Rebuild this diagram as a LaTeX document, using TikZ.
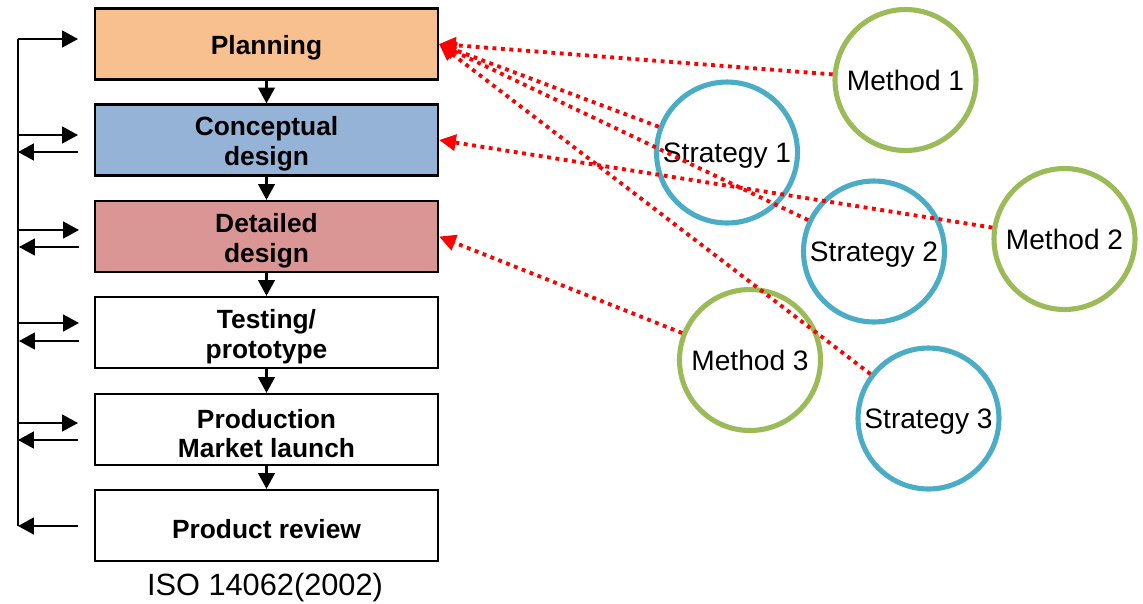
\documentclass[tikz,border=0pt]{standalone}
\usepackage{fontspec}
\setmainfont{Liberation Sans}
\usetikzlibrary{arrows.meta}

\definecolor{planfill}{HTML}{F9C08F}
\definecolor{concfill}{HTML}{95B3D7}
\definecolor{detfill}{HTML}{D99694}
\definecolor{methgreen}{HTML}{9BBB59}
\definecolor{stratblue}{HTML}{4BACC6}

\tikzset{
  stage/.style={draw=black,line width=1.3pt,minimum width=6.86cm,minimum height=1.42cm,
    inner sep=0pt},
  stagetext/.style={align=center,font=\fontsize{15}{17}\selectfont\bfseries,
    inner sep=0pt,yshift=-2.3pt},
  bubble/.style={circle,line width=2.9pt,minimum size=2.82cm,inner sep=0pt,
    text height=11.5pt,text depth=0pt,font=\fontsize{16}{19}\selectfont},
  method/.style={bubble,draw=methgreen},
  strategy/.style={bubble,draw=stratblue},
  flow/.style={-{Triangle[length=9pt,width=9.5pt]},line width=1.2pt},
  link/.style={-{Triangle[length=9.5pt,width=9pt]},red,line width=2.2pt,
    dash pattern=on 2.2pt off 2.6pt},
}

\begin{document}
\begin{tikzpicture}[x=0.02cm,y=-0.02cm]
\useasboundingbox (0,0) rectangle (1143,603);

% process stages
\node[stage,fill=planfill,label={[stagetext]center:Planning}] (plan) at (266.5,44) {};
\node[stage,fill=concfill,label={[stagetext]center:{Conceptual\\design}}] (conc) at (266.5,140) {};
\node[stage,fill=detfill,label={[stagetext]center:{Detailed\\design}}] (det) at (266.5,236.5) {};
\node[stage,label={[stagetext]center:{Testing/\\prototype}}] (test) at (266.5,332.5) {};
\node[stage,label={[stagetext]center:{Production\\Market launch}}] (prod) at (266.5,429.5) {};
\node[stage,label={[stagetext]center:Product review}] (rev) at (266.5,525.5) {};

\node[font=\fontsize{17.5}{20}\selectfont] (iso) at (265,588) {ISO 14062(2002)};

\draw[flow] (plan) -- (conc);
\draw[flow] (conc) -- (det);
\draw[flow] (det) -- (test);
\draw[flow] (test) -- (prod);
\draw[flow] (prod) -- (rev);

% feedback loop on the left
\coordinate (top) at (18,39);
\coordinate (bot) at (18,526);
\draw[line width=1.2pt] (bot) -- (top);
\draw[flow] (top) -- (78,39);

\draw[flow] (18,135) -- (78,135);
\draw[flow] (78,152) -- (18,152);
\draw[flow] (19,230) -- (79,230);
\draw[flow] (79,247) -- (19,247);
\draw[flow] (19,323) -- (79,323);
\draw[flow] (79,341) -- (19,341);
\draw[flow] (18,423) -- (78,423);
\draw[flow] (78,440) -- (18,440);
\draw[flow] (78,526) -- (bot);

% methods and strategies
\node[method] (m1) at (905.5,80) {Method 1};
\node[method] (m2) at (1064.5,239) {Method 2};
\node[method] (m3) at (750,360) {Method 3};
\node[strategy] (s1) at (727,152.5) {Strategy 1};
\node[strategy] (s2) at (874,251.5) {Strategy 2};
\node[strategy] (s3) at (928.5,418.5) {Strategy 3};

\draw[link] (m1) -- (plan.east);
\draw[link] (s1) -- (plan.east);
\draw[link] (s2) -- (plan.east);
\draw[link] (s3) -- (plan.east);
\draw[link] (m2) -- (conc.east);
\draw[link] (m3) -- (det.east);
\end{tikzpicture}
\end{document}
